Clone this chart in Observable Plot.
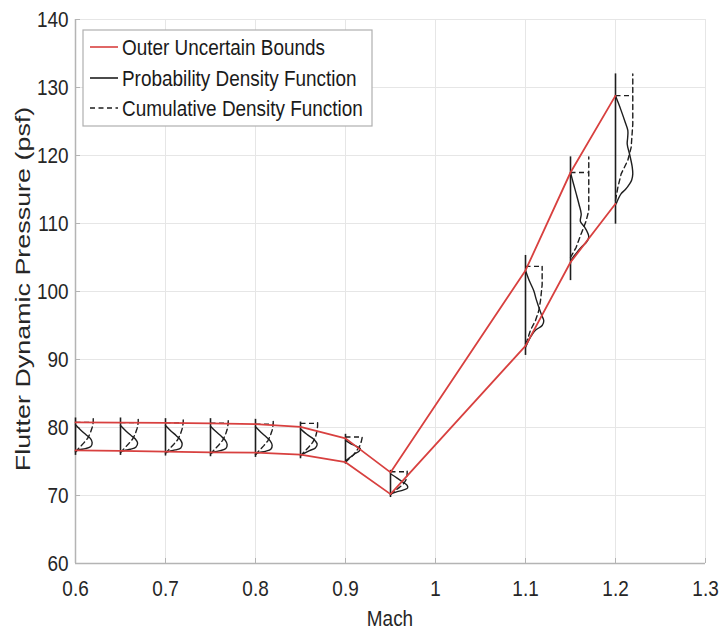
<!DOCTYPE html>
<html><head><meta charset="utf-8">
<script src="https://cdn.jsdelivr.net/npm/d3@7"></script>
<script src="https://cdn.jsdelivr.net/npm/@observablehq/plot@0.6"></script>
<style>
body{margin:0;background:#fff;}
#chart svg{font-family:"Liberation Sans", Arial, sans-serif;}
</style>
</head><body><div id="chart"></div>
<script>
// ---- data ----
const mach = [0.6, 0.65, 0.7, 0.75, 0.8, 0.85, 0.9, 0.95, 1.1, 1.15, 1.2];
const upperBound = [80.75, 80.72, 80.68, 80.62, 80.5, 80.1, 78.4, 73.4, 103.1, 117.5, 128.8];
const lowerBound = [76.65, 76.55, 76.45, 76.35, 76.3, 76.0, 74.9, 70.2, 92.0, 104.3, 112.9];
const pdfLow  = [75.9, 75.9, 75.8, 75.7, 75.6, 75.4, 74.6, 69.7, 90.6, 101.6, 109.9];
const pdfHigh = [81.4, 81.4, 81.3, 81.3, 81.2, 80.8, 79.0, 73.7, 105.3, 119.8, 132.0];
// PDF curves: [pressure, horizontal offset in Mach]
const pdfCurves = [
  [[80.4,0],[79.6,0.006],[78.9,0.012],[78.4,0.0165],[77.8,0.0185],[77.2,0.017],[76.9,0.011],[76.7,0.004],[76.5,0]],
  [[80.3,0],[79.5,0.006],[78.8,0.012],[78.3,0.0165],[77.7,0.019],[77.1,0.017],[76.8,0.011],[76.6,0.004],[76.4,0]],
  [[80.3,0],[79.5,0.006],[78.8,0.012],[78.2,0.0165],[77.6,0.0185],[77.0,0.017],[76.7,0.011],[76.5,0.004],[76.3,0]],
  [[80.2,0],[79.4,0.006],[78.7,0.012],[78.1,0.0165],[77.5,0.0185],[76.9,0.017],[76.6,0.011],[76.4,0.004],[76.2,0]],
  [[80.1,0],[79.3,0.006],[78.6,0.012],[78.0,0.0165],[77.4,0.0185],[76.8,0.017],[76.5,0.011],[76.3,0.004],[76.1,0]],
  [[79.8,0],[79.0,0.007],[78.3,0.0145],[77.6,0.0185],[77.0,0.0165],[76.6,0.010],[76.2,0.004],[75.9,0]],
  [[78.1,0],[77.6,0.006],[77.3,0.011],[76.9,0.0165],[76.5,0.015],[76.1,0.010],[75.6,0.005],[75.1,0]],
  [[73.2,0],[72.6,0.007],[71.9,0.0145],[71.5,0.0185],[71.1,0.019],[70.8,0.014],[70.5,0.006],[70.2,0]],
  [[103.1,0],[101.5,0.0045],[100.1,0.0092],[98.8,0.012],[97.7,0.0148],[96.5,0.018],[95.7,0.0203],[95.0,0.0185],[94.3,0.011],[93.3,0.0055],[92.3,0.0018],[91.8,0]],
  [[117.5,0],[116.0,0.003],[114.4,0.0063],[112.8,0.0095],[111.4,0.0119],[110.3,0.011],[109.5,0.0155],[108.5,0.0195],[108.0,0.0203],[107.3,0.018],[106.5,0.012],[105.6,0.0063],[104.6,0.0008],[104.2,0]],
  [[128.8,0],[127.6,0.0035],[126.6,0.0063],[125.0,0.0105],[123.7,0.0137],[122.6,0.0135],[121.7,0.013],[120.0,0.016],[118.3,0.0186],[117.3,0.0192],[116.4,0.018],[115.8,0.0155],[115.0,0.011],[114.4,0.0063],[113.6,0.003],[112.9,0.0008]]
];
// CDF curves: [pressure, horizontal offset in Mach]
const cdfCurves = [
  [[76.4,0],[77.0,0.004],[77.7,0.009],[78.4,0.0135],[79.2,0.0165],[80.0,0.0185],[80.75,0.0197],[81.4,0.0197]],
  [[76.3,0],[76.9,0.004],[77.6,0.009],[78.3,0.0135],[79.1,0.0165],[79.9,0.0185],[80.72,0.0197],[81.4,0.0197]],
  [[76.2,0],[76.8,0.004],[77.5,0.009],[78.2,0.0135],[79.0,0.0165],[79.8,0.0185],[80.68,0.0197],[81.3,0.0197]],
  [[76.1,0],[76.7,0.004],[77.4,0.009],[78.1,0.0135],[78.9,0.0165],[79.7,0.0185],[80.62,0.0197],[81.3,0.0197]],
  [[76.0,0],[76.6,0.004],[77.3,0.009],[78.0,0.0135],[78.8,0.0165],[79.6,0.0185],[80.5,0.0197],[81.2,0.0197]],
  [[75.8,0],[76.4,0.004],[77.1,0.009],[77.8,0.0135],[78.5,0.0165],[79.3,0.018],[80.2,0.019],[80.8,0.019]],
  [[74.9,0],[75.4,0.004],[76.0,0.009],[76.6,0.0125],[77.2,0.0155],[77.9,0.0175],[78.5,0.0185],[79.0,0.0185]],
  [[70.1,0],[70.6,0.004],[71.2,0.010],[71.8,0.015],[72.5,0.018],[73.2,0.0185],[73.7,0.0185]],
  [[92.3,0],[92.8,0.0018],[94.3,0.0055],[95.7,0.011],[97.2,0.0148],[98.7,0.0167],[101.0,0.0185],[102.1,0.0185],[103.7,0.0185]],
  [[105.0,0],[106.5,0.0063],[108.5,0.0119],[110.4,0.0174],[111.9,0.0203],[119.8,0.0203]],
  [[113.4,0],[115.3,0.0026],[117.3,0.0063],[119.3,0.0137],[121.2,0.0174],[124.6,0.0192],[132.0,0.0192]]
];
const cdfCapLevel = [80.75, 80.72, 80.68, 80.62, 80.5, 80.6, 78.6, 73.5, 103.7, 117.5, 128.8];
const cdfCapWidth = [0.0197, 0.0197, 0.0197, 0.0197, 0.0197, 0.019, 0.0185, 0.0185, 0.0185, 0.0203, 0.0192];

const xTicks = [0.6, 0.7, 0.8, 0.9, 1.0, 1.1, 1.2, 1.3];
const xTickLabels = ["0.6", "0.7", "0.8", "0.9", "1", "1.1", "1.2", "1.3"];
const yTicks = [60, 70, 80, 90, 100, 110, 120, 130, 140];
const yTickLabels = ["60", "70", "80", "90", "100", "110", "120", "130", "140"];
const legendLabels = ["Outer Uncertain Bounds", "Probability Density Function", "Cumulative Density Function"];
const xTitle = "Mach";
const yTitle = "Flutter Dynamic Pressure (psf)";

// ---- tables ----
const upperRows = mach.map((m, i) => ({m, v: upperBound[i]}));
const lowerRows = mach.map((m, i) => ({m, v: lowerBound[i]}));
const vertRows = mach.map((m, i) => ({m, lo: pdfLow[i], hi: pdfHigh[i]}));
const pdfRows = mach.flatMap((m, i) => pdfCurves[i].map(([v, o]) => ({m: m + o, v, s: i})));
const cdfRows = mach.flatMap((m, i) => cdfCurves[i].map(([v, o]) => ({m: m + o, v, s: i})));
const capRows = mach.map((m, i) => ({x1: m, x2: m + cdfCapWidth[i], y: cdfCapLevel[i]}));

const RED = "#d8403f", BLK = "#1e1e1e", AX = "#b4b4b4", GRID = "#e6e6e6", TXT = "#262626";

const plot = Plot.plot({
  width: 728, height: 630,
  marginLeft: 75, marginRight: 23, marginTop: 19, marginBottom: 67,
  style: {fontFamily: "Liberation Sans, Arial, sans-serif", background: "#fff"},
  x: {domain: [0.6, 1.3], label: null},
  y: {domain: [60, 140], label: null},
  marks: [
    Plot.gridX(xTicks, {stroke: GRID, strokeOpacity: 1}),
    Plot.gridY(yTicks, {stroke: GRID, strokeOpacity: 1}),
    Plot.ruleY([60], {stroke: AX, strokeWidth: 1.5}),
    Plot.ruleX([0.6], {stroke: AX, strokeWidth: 1.5}),
    Plot.axisX(xTicks, {tickSize: -5, tickPadding: 22, stroke: AX, fill: TXT, fontSize: 22,
      tickFormat: (d) => xTickLabels[xTicks.indexOf(d)]}),
    Plot.axisY(yTicks, {tickSize: -5, tickPadding: 12, stroke: AX, fill: TXT, fontSize: 22,
      tickFormat: (d) => yTickLabels[yTicks.indexOf(d)]}),
    Plot.line(cdfRows, {x: "m", y: "v", z: "s", stroke: BLK, strokeWidth: 1.4, strokeDasharray: "5,3.5"}),
    Plot.link(capRows, {x1: "x1", x2: "x2", y1: "y", y2: "y", stroke: BLK, strokeWidth: 1.4, strokeDasharray: "5,3.5"}),
    Plot.ruleX(vertRows, {x: "m", y1: "lo", y2: "hi", stroke: BLK, strokeWidth: 1.6}),
    Plot.line(pdfRows, {x: "m", y: "v", z: "s", stroke: BLK, strokeWidth: 1.4, curve: "catmull-rom"}),
    Plot.line(upperRows, {x: "m", y: "v", stroke: RED, strokeWidth: 1.8}),
    Plot.line(lowerRows, {x: "m", y: "v", stroke: RED, strokeWidth: 1.8})
  ]
});
document.getElementById("chart").appendChild(plot);

const svg = d3.select(plot);
// axis titles
svg.append("text").attr("class", "ttl").attr("x", 390).attr("y", 618)
  .attr("text-anchor", "middle").attr("dominant-baseline", "central")
  .attr("font-size", 22).attr("fill", TXT).text(xTitle);
svg.append("text").attr("class", "ytl").attr("transform", "translate(22,289) rotate(-90)")
  .attr("text-anchor", "middle").attr("dominant-baseline", "central")
  .attr("font-size", 21).attr("fill", TXT).text(yTitle);

// legend
const lg = svg.append("g");
lg.append("rect").attr("x", 83).attr("y", 30).attr("width", 289).attr("height", 96)
  .attr("fill", "#fff").attr("stroke", "#b0b0b0").attr("stroke-width", 1.2);
const rowsY = [47, 78, 108];
const styles = [{s: RED, d: null}, {s: BLK, d: null}, {s: BLK, d: "5,3.5"}];
legendLabels.forEach((t, i) => {
  lg.append("line").attr("x1", 90).attr("x2", 118).attr("y1", rowsY[i]).attr("y2", rowsY[i])
    .attr("stroke", styles[i].s).attr("stroke-width", 1.6).attr("stroke-dasharray", styles[i].d);
  lg.append("text").attr("x", 122).attr("y", rowsY[i]).attr("dominant-baseline", "central")
    .attr("text-anchor", "start")
    .attr("font-size", 22).attr("fill", "#1a1a1a").text(t);
});

// condense horizontal texts (reference is vertically stretched), stretch the rotated title
plot.querySelectorAll("text").forEach(t => {
  const L = t.getComputedTextLength();
  if (!L) return;
  const f = t.classList.contains("ytl") ? 1.28 : 0.86;
  t.setAttribute("textLength", (L * f).toFixed(1));
  t.setAttribute("lengthAdjust", "spacingAndGlyphs");
});
</script>
</body></html>
